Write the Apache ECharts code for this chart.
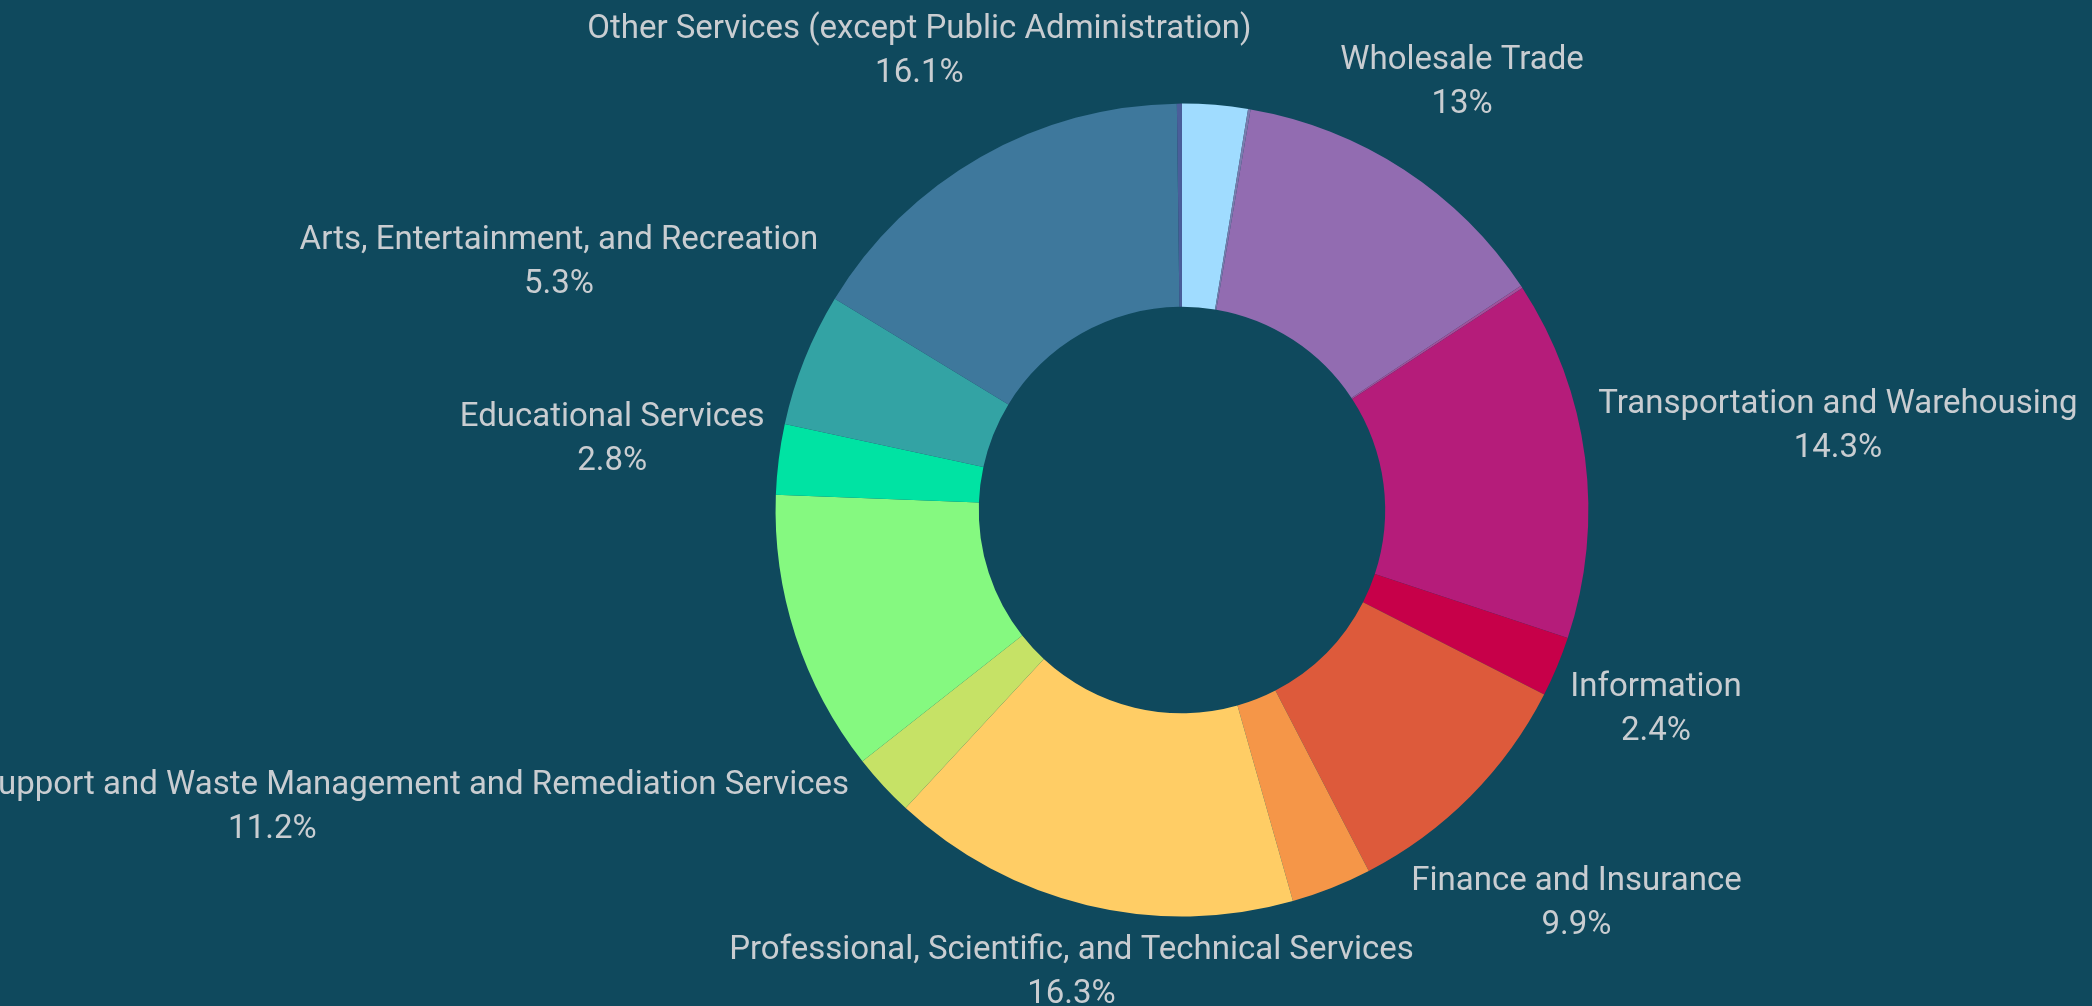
<!DOCTYPE html>
<html>
<head>
<meta charset="utf-8">
<title>Industry share donut</title>
<script src="https://cdn.jsdelivr.net/npm/echarts@6/dist/echarts.min.js"></script>
<style>
  html, body { margin: 0; padding: 0; background: #0f495d; }
  #chart { width: 2092px; height: 1006px; }
</style>
</head>
<body>
<div id="chart"></div>
<script>
// slices, clockwise from 12 o'clock
var sectors = [
  'Construction',
  'Manufacturing',
  'Wholesale Trade',
  'Retail Trade',
  'Transportation and Warehousing',
  'Information',
  'Finance and Insurance',
  'Real Estate and Rental and Leasing',
  'Professional, Scientific, and Technical Services',
  'Management of Companies and Enterprises',
  'Administrative and Support and Waste Management and Remediation Services',
  'Educational Services',
  'Arts, Entertainment, and Recreation',
  'Other Services (except Public Administration)',
  'Unclassified'
]
var shares = [2.6, 0.1, 13.0, 0.1, 14.3, 2.4, 9.9, 3.2, 16.3, 2.5, 11.2, 2.8, 5.3, 16.1, 0.2]
var colors = ['#a0dcff', '#7b7cae', '#926cb1', '#a4519c', '#b51c7a', '#c70049', '#dd5a3b', '#f59648',
  '#ffcd65', '#c6e266', '#85f980', '#00e3a3', '#33a3a4', '#3e789c', '#4a5e9a']
// slices whose labels are not shown
var hiddenLabels = ['Construction', 'Manufacturing', 'Retail Trade', 'Real Estate and Rental and Leasing',
  'Management of Companies and Enterprises', 'Unclassified']

var centerPct = [0.565, 0.507]
var outerPct = 0.808
var labelGap = 12

var chart = echarts.init(document.getElementById('chart'))

// mid angle of every slice (radians, clockwise from top)
var total = shares.reduce(function (a, b) { return a + b }, 0)
var midAngles = []
var acc = 0
shares.forEach(function (v) {
  midAngles.push((acc + v / 2) / total * Math.PI * 2)
  acc += v
})

var data = sectors.map(function (name, i) {
  var item = { name: name, value: shares[i], itemStyle: { color: colors[i] } }
  if (hiddenLabels.indexOf(name) >= 0) {
    item.label = { show: false }
  }
  return item
})

function clamp (v, lo, hi) { return Math.max(lo, Math.min(hi, v)) }

// push the label box out along the slice's middle ray until it clears the ring
function placeLabel (params) {
  var w = params.labelRect.width
  var h = params.labelRect.height - 4
  var cw = chart.getWidth()
  var ch = chart.getHeight()
  var cx = cw * centerPct[0]
  var cy = ch * centerPct[1]
  var R = Math.min(cw, ch) / 2 * outerPct + labelGap
  var a = midAngles[params.dataIndex]
  var ux = Math.sin(a)
  var uy = -Math.cos(a)
  var lo = 0
  var hi = 3000
  for (var k = 0; k < 60; k++) {
    var d = (lo + hi) / 2
    var bx = d * ux
    var by = d * uy
    var nx = clamp(0, bx - w / 2, bx + w / 2)
    var ny = clamp(0, by - h / 2, by + h / 2)
    if (Math.sqrt(nx * nx + ny * ny) < R) lo = d
    else hi = d
  }
  return {
    x: cx + hi * ux,
    y: cy + hi * uy + 2,
    align: 'center',
    verticalAlign: 'middle'
  }
}

chart.setOption({
  backgroundColor: '#0f495d',
  animation: false,
  series: [
    {
      type: 'pie',
      center: [centerPct[0] * 100 + '%', centerPct[1] * 100 + '%'],
      radius: ['40.4%', outerPct * 100 + '%'],
      startAngle: 90,
      percentPrecision: 1,
      avoidLabelOverlap: false,
      itemStyle: { borderWidth: 0 },
      label: {
        show: true,
        position: 'outside',
        color: '#c9cdd1',
        fontFamily: 'Roboto',
        fontSize: 33,
        lineHeight: 44,
        overflow: 'none',
        formatter: function (p) {
          return p.name + '\n' + p.percent + '%'
        }
      },
      labelLine: { show: false, length: 10, length2: 0 },
      labelLayout: placeLabel,
      data: data
    }
  ]
})
</script>
</body>
</html>
